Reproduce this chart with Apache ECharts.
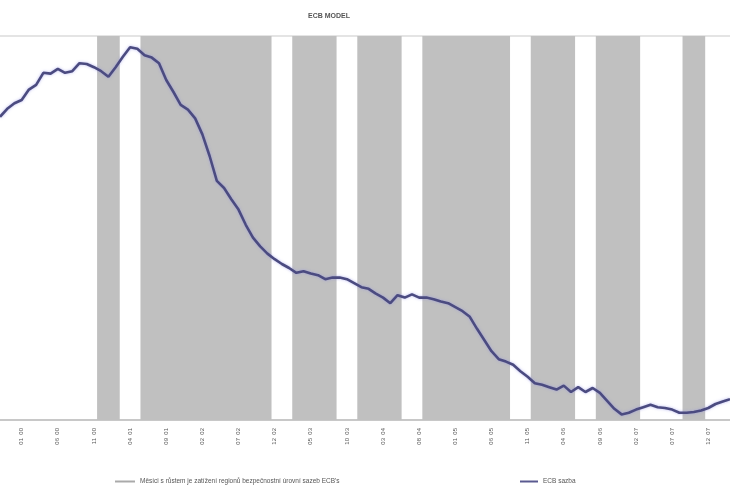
<!DOCTYPE html>
<html><head><meta charset="utf-8">
<script src="https://cdn.jsdelivr.net/npm/echarts@6/dist/echarts.min.js"></script>
<style>html,body{margin:0;padding:0;background:#fff}#c{width:730px;height:487px}</style>
</head><body><div id="c"></div>
<script>
// Tick labels (every 5th month, starting at index 3)
const tickLabels = ["01  00","06  00","11  00","04  01","09  01","02  02","07  02","12  02","05  03","10  03",
  "03  04","08  04","01  05","06  05","11  05","04  06","09  06","02  07","07  07","12  07"];
// Line series values (one per month)
const rateValues = [3.79,3.89,3.96,4.00,4.13,4.19,4.34,4.33,4.39,4.34,
  4.36,4.46,4.45,4.41,4.36,4.29,4.41,4.54,4.66,4.64,
  4.56,4.53,4.46,4.25,4.10,3.94,3.88,3.77,3.57,3.30,
  2.99,2.90,2.76,2.63,2.44,2.28,2.17,2.08,2.01,1.95,
  1.90,1.84,1.86,1.83,1.81,1.76,1.78,1.78,1.76,1.71,
  1.66,1.64,1.58,1.53,1.46,1.56,1.53,1.57,1.53,1.53,
  1.51,1.48,1.46,1.41,1.36,1.29,1.14,1.00,0.86,0.76,
  0.73,0.69,0.61,0.54,0.46,0.44,0.41,0.38,0.43,0.35,
  0.41,0.35,0.40,0.34,0.24,0.14,0.07,0.09,0.13,0.16,
  0.19,0.16,0.15,0.13,0.09,0.09,0.10,0.12,0.15,0.20,
  0.23,0.26];
// Shaded month ranges [first index, last index]
const shadedRanges = [[14,16],[20,37],[41,46],[50,55],[59,70],[74,79],[83,88],[95,97]];
const seriesNames = ["Měsíci s růstem je zatížení regionů bezpečnostní úrovní sazeb ECB's", "ECB sazba"];

const N = rateValues.length;
const categories = [];
for (let i = 0; i < N; i++) {
  const k = (i - 3) / 5;
  categories.push(Number.isInteger(k) && k >= 0 && k < tickLabels.length ? tickLabels[k] : ('m' + i));
}
const shadeData = new Array(N).fill('-');
shadedRanges.forEach(([a, b]) => { for (let i = a; i <= b; i++) shadeData[i] = 1; });

const chart = echarts.init(document.getElementById('c'), null, {renderer: 'canvas'});
chart.setOption({
  animation: false,
  backgroundColor: '#fff',
  title: {
    text: 'ECB MODEL', left: 303, top: 8,
    textStyle: {fontSize: 7, fontWeight: 'bold', color: '#555', fontFamily: 'Liberation Sans'}
  },
  legend: [
    {data: [seriesNames[0]], left: 110, top: 473, itemWidth: 20, itemHeight: 2, icon: 'rect',
     itemGap: 4, itemStyle: {borderWidth: 0, color: '#aaa'},
     textStyle: {fontSize: 6.5, color: '#555', fontFamily: 'Liberation Sans'}},
    {data: [seriesNames[1]], left: 515, top: 473, itemWidth: 18, itemHeight: 2, icon: 'rect',
     textStyle: {fontSize: 6.5, color: '#555', fontFamily: 'Liberation Sans'}}
  ],
  grid: {left: 0, top: 36, width: 733, bottom: 67, containLabel: false},
  xAxis: {
    type: 'category', data: categories, boundaryGap: false,
    axisLine: {lineStyle: {color: '#c8c8c8', width: 2}},
    axisTick: {show: false},
    axisLabel: {
      rotate: 90, fontSize: 6, color: '#555', fontFamily: 'Liberation Sans', margin: 8,
      interval: (i) => (i - 3) % 5 === 0 && i >= 3,
      formatter: (v) => v.startsWith('m') ? '' : v
    }
  },
  yAxis: [
    {type: 'value', min: 0, max: 4.8, interval: 4.8, show: true,
     axisLine: {show: false}, axisTick: {show: false}, axisLabel: {show: false},
     splitLine: {show: true, lineStyle: {color: '#e4e4e4', width: 2}}},
    {type: 'value', min: 0, max: 1, show: false}
  ],
  series: [
    {name: seriesNames[0], type: 'bar', yAxisIndex: 1, data: shadeData,
     barWidth: 8.2, barGap: '-100%',
     itemStyle: {color: '#c0c0c0', borderWidth: 0}, z: 1, silent: true},
    {name: seriesNames[1], type: 'line', data: rateValues, showSymbol: false,
     lineStyle: {color: '#4b4b80', width: 2.6, shadowColor: 'rgba(140,140,230,0.6)', shadowBlur: 3},
     itemStyle: {color: '#5a5a90'}, z: 5}
  ]
});
</script></body></html>
